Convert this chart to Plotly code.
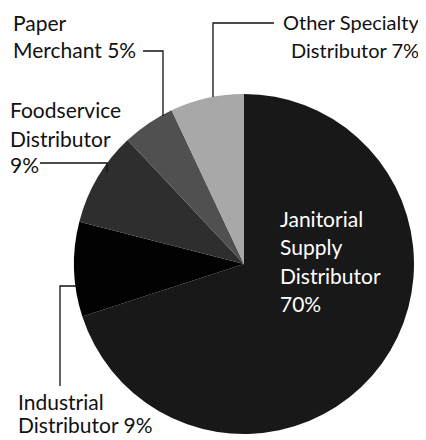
import plotly.graph_objects as go

categories = ["Janitorial Supply Distributor", "Industrial Distributor", "Foodservice Distributor",
              "Paper Merchant", "Other Specialty Distributor"]
shares = [70, 9, 9, 5, 7]
slice_colors = ["#181818", "#020202", "#2e2e2e", "#505050", "#a8a8a8"]

# page body has an 8px margin; work in page pixels and convert
OFF = 8
W, H = 418, 432

def px(x):
    return (x - OFF) / W

def py(y):
    return 1 - (y - OFF) / H

cx, cy, r = 244, 264, 170
fig = go.Figure(go.Pie(
    labels=categories, values=shares, sort=False, direction="clockwise", rotation=0,
    marker=dict(colors=slice_colors, line=dict(width=0)),
    textinfo="none", hoverinfo="label+percent", showlegend=False,
    domain=dict(x=[px(cx - r), px(cx + r)], y=[py(cy + r), py(cy - r)]),
))

font = dict(family="Lato, Open Sans, sans-serif", size=21, color="#111")

def note(x, y, text, xanchor="left", color="#111", size=21):
    fig.add_annotation(x=px(x), y=py(y), xref="paper", yref="paper", text=text,
                       showarrow=False, xanchor=xanchor, yanchor="middle", borderpad=0,
                       font=dict(font, color=color, size=size))

label_lines = [
    (12, [(23, "Paper"), (50, "Merchant 5%")], "left", "#111", 21),
    (420, [(22, "Other Specialty"), (50, "Distributor 7%")], "right", "#111", 20),
    (9, [(109, "Foodservice"), (138, "Distributor"), (164, "9%")], "left", "#111", 21),
    (279, [(218, "Janitorial"), (247, "Supply"), (275, "Distributor"), (303, "70%")], "left", "white", 21),
    (17, [(401, "Industrial"), (424, "Distributor 9%")], "left", "#111", 21),
]
for x, lines, anchor, color, size in label_lines:
    for y, t in lines:
        note(x, y, t, anchor, color, size)

leaders = [
    [(143, 51), (163, 51), (163, 116)],
    [(274, 23), (213, 23), (213, 97)],
    [(40, 163), (107, 163), (107, 172)],
    [(60, 386), (60, 286), (78, 286)],
]
for pts in leaders:
    path = "M " + " L ".join(f"{px(x)},{py(y)}" for x, y in pts)
    fig.add_shape(type="path", path=path, xref="paper", yref="paper",
                  line=dict(color="#111", width=1.3))

fig.update_layout(width=W, height=H, margin=dict(l=0, r=0, t=0, b=0),
                  paper_bgcolor="white", plot_bgcolor="white")
fig.write_html("out.html")
